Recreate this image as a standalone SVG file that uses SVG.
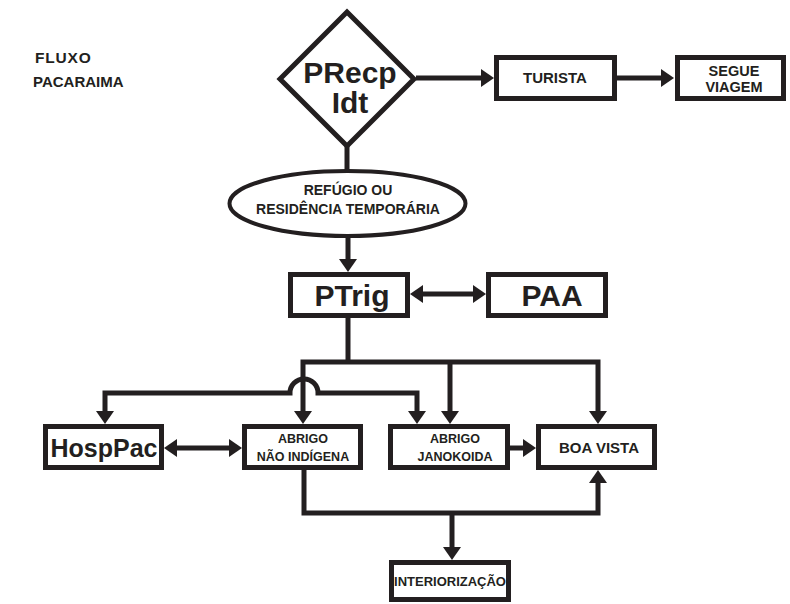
<svg xmlns="http://www.w3.org/2000/svg" width="790" height="604" viewBox="0 0 790 604">
<style>
.n{fill:#fff;stroke:#231f20;stroke-width:5}
.c{fill:none;stroke:#231f20;stroke-width:5;stroke-linejoin:miter}
.a{marker-end:url(#ah)}
.d{marker-start:url(#ah);marker-end:url(#ah)}
text{font-family:"Liberation Sans",Arial,sans-serif;font-weight:bold;fill:#231f20;text-anchor:middle}
</style>
<defs>
<marker id="ah" markerUnits="userSpaceOnUse" markerWidth="14" markerHeight="18" refX="3" refY="9" orient="auto-start-reverse" viewBox="0 0 14 18">
<path d="M0,0 L13,9 L0,18 z" fill="#231f20"/>
</marker>
</defs>
<rect width="790" height="604" fill="#fff"/>
<g id="title"><text x="35" y="63" font-size="15.5" letter-spacing="0.8" style="text-anchor:start">FLUXO</text><text x="33" y="87" font-size="15" style="text-anchor:start">PACARAIMA</text></g>
<g id="connectors">
<path class="c a" d="M416 78 H484"/>
<path class="c a" d="M617 78 H664"/>
<path class="c" d="M347 145 V170"/>
<path class="c a" d="M348 237 V262"/>
<path class="c d" d="M420 294 H476"/>
<path class="c" d="M348 318 V362"/>
<path class="c d" d="M303 414 V362 H598 V414"/>
<path class="c a" d="M450 362 V414"/>
<path class="c d" d="M105 414 V393 H290 A14 14 0 0 1 318 393 H417 V414"/>
<path class="c d" d="M174 448 H232"/>
<path class="c a" d="M510 448 H526"/>
<path class="c a" d="M304 470 V513 H598 V480"/>
<path class="c a" d="M452 513 V550"/>
</g>
<g id="precp"><polygon class="n" points="347,12 414,79 347,146 280,79"/><text x="350" y="83" font-size="30">PRecp</text><text x="350" y="113" font-size="30">Idt</text></g>
<g id="turista"><rect class="n" x="496.5" y="57.5" width="118" height="41"/><text x="555" y="83" font-size="15">TURISTA</text></g>
<g id="segue"><rect class="n" x="677.5" y="57.5" width="106" height="41"/><text x="734" y="75.5" font-size="14.5">SEGUE</text><text x="734" y="92" font-size="14.5">VIAGEM</text></g>
<g id="refugio"><ellipse class="n" cx="347.5" cy="203.5" rx="118" ry="32.5" style="stroke-width:4"/><text x="348" y="195" font-size="14">REFÚGIO OU</text><text x="348" y="214" font-size="14">RESIDÊNCIA TEMPORÁRIA</text></g>
<g id="ptrig"><rect class="n" x="290.5" y="274.5" width="117" height="41"/><text x="352" y="306" font-size="30">PTrig</text></g>
<g id="paa"><rect class="n" x="488.5" y="274.5" width="117" height="41"/><text x="552" y="306" font-size="30">PAA</text></g>
<g id="hosppac"><rect class="n" x="45.5" y="426.5" width="116" height="41"/><text x="104" y="457" font-size="25">HospPac</text></g>
<g id="abrigo-ni"><rect class="n" x="244.5" y="426.5" width="116" height="41"/><text x="303" y="443" font-size="12.5">ABRIGO</text><text x="303" y="461" font-size="12.5">NÃO INDÍGENA</text></g>
<g id="abrigo-jan"><rect class="n" x="390.5" y="426.5" width="117" height="41"/><text x="455" y="443" font-size="12.5">ABRIGO</text><text x="455" y="461" font-size="12.5">JANOKOIDA</text></g>
<g id="boavista"><rect class="n" x="538.5" y="426.5" width="116" height="41"/><text x="599" y="453" font-size="15">BOA VISTA</text></g>
<g id="interiorizacao"><rect class="n" x="391.5" y="562.5" width="117" height="37"/><text x="450" y="586" font-size="13">INTERIORIZAÇÃO</text></g>
</svg>
